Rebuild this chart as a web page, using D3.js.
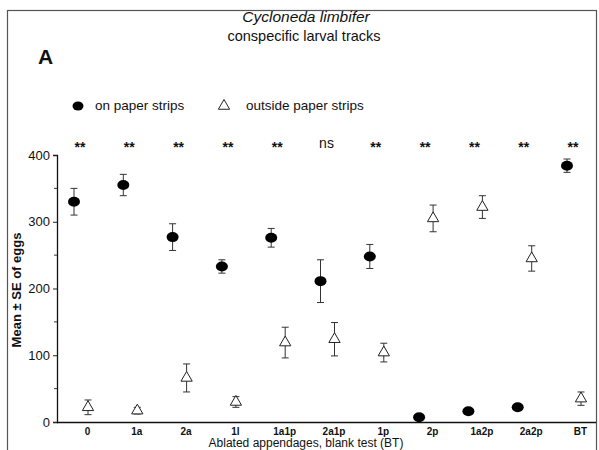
<!DOCTYPE html>
<html><head><meta charset="utf-8">
<script src="https://cdn.jsdelivr.net/npm/d3@7/dist/d3.min.js"></script>
<style>body{margin:0;background:#fff}svg{display:block}</style>
</head><body>
<svg id="c" width="599" height="450"></svg>
<script>
const categories = ["0","1a","2a","1l","1a1p","2a1p","1p","2p","1a2p","2a2p","BT"];
const onMean  = [330,355,277,233,276,211,248,7,16,22,384];
const onSE    = [20,16,20,10,14,32,18,0,0,0,10];
const outMean = [22,17,66,30,119,124,104,305,322,245,35];
const outSE   = [11,5,21,8,23,25,14,20,17,19,10];
const signif  = ["**","**","**","**","**","ns","**","**","**","**","**"];
const yTicks  = [0,100,200,300,400];
const yMinor  = [50,150,250,350];

const svg = d3.select("#c");
const font = "Liberation Sans, Arial, sans-serif";

// frame
svg.append("rect").attr("x",7.5).attr("y",10.5).attr("width",589).attr("height",445)
  .attr("fill","none").attr("stroke","#555").attr("stroke-width",1.2);

const x = d3.scalePoint().domain(categories).range([87,580]);
const y = d3.scaleLinear().domain([0,400]).range([422,155]);
const axX = 57;

// y axis
const yAxis = d3.axisLeft(y).tickValues(yTicks).tickSize(4).tickPadding(3).tickFormat(d3.format("d"));
const ga = svg.append("g").attr("transform",`translate(${axX},0)`).call(yAxis);
ga.select(".domain").attr("stroke","#111").attr("stroke-width",1.3);
ga.selectAll(".tick text").attr("font-family",font).attr("font-size",13).attr("fill","#111");
ga.selectAll(".tick line").attr("stroke","#222");
svg.append("g").selectAll("line").data(yMinor).join("line")
  .attr("x1",axX-3).attr("x2",axX).attr("y1",d=>y(d)).attr("y2",d=>y(d)).attr("stroke","#333");

// x axis
const xAxis = d3.axisBottom(x).tickSize(0).tickPadding(6);
const gx = svg.append("g").attr("transform",`translate(0,${y(0)})`).call(xAxis);
gx.select(".domain").attr("d",`M${axX},0.5H596`).attr("stroke","#111").attr("stroke-width",1.3);
gx.selectAll(".tick text").attr("font-family",font).attr("font-size",10).attr("font-weight","bold").attr("fill","#111");

// titles
svg.append("text").attr("x",306).attr("y",22).attr("text-anchor","middle")
  .attr("font-family",font).attr("font-size",15.5).attr("font-style","italic").attr("fill","#111").text("Cycloneda limbifer");
svg.append("text").attr("x",304).attr("y",41).attr("text-anchor","middle")
  .attr("font-family",font).attr("font-size",14.5).attr("fill","#111").text("conspecific larval tracks");
svg.append("text").attr("x",38).attr("y",64)
  .attr("font-family",font).attr("font-size",21).attr("font-weight","bold").attr("fill","#111").text("A");

// axis titles
svg.append("text").attr("transform","translate(21,290) rotate(-90)").attr("text-anchor","middle")
  .attr("font-family",font).attr("font-size",13).attr("font-weight","bold").attr("fill","#111").text("Mean ± SE of eggs");
svg.append("text").attr("x",306).attr("y",447).attr("text-anchor","middle")
  .attr("font-family",font).attr("font-size",12).attr("fill","#111").text("Ablated appendages, blank test (BT)");

// legend
const tri = d3.symbol().type(d3.symbolTriangle).size(55);
svg.append("ellipse").attr("cx",78).attr("cy",106).attr("rx",5.5).attr("ry",4.5).attr("fill","#000");
svg.append("text").attr("x",95).attr("y",110).attr("font-family",font).attr("font-size",13.5).attr("fill","#111").text("on paper strips");
svg.append("path").attr("d",tri).attr("transform","translate(224,106)").attr("fill","#fff").attr("stroke","#222").attr("stroke-width",1);
svg.append("text").attr("x",246).attr("y",110).attr("font-family",font).attr("font-size",13.5).attr("fill","#111").text("outside paper strips");

// significance
svg.append("g").selectAll("text").data(categories).join("text")
  .attr("x",d=>x(d)-7).attr("y",(d,i)=>signif[i]==="ns"?148:152).attr("text-anchor","middle")
  .attr("font-family",font).attr("font-size",14).attr("font-weight",(d,i)=>signif[i]==="ns"?"normal":"bold")
  .attr("fill","#111").text((d,i)=>signif[i]);

// error bars helper
function errBars(mean, se, dx){
  const g = svg.append("g").attr("stroke","#333").attr("stroke-width",1);
  categories.forEach((c,i)=>{
    if(!se[i]) return;
    const cx = x(c)+dx, t = y(mean[i]+se[i]), b = y(mean[i]-se[i]);
    g.append("line").attr("x1",cx).attr("x2",cx).attr("y1",t).attr("y2",b);
    g.append("line").attr("x1",cx-3.5).attr("x2",cx+3.5).attr("y1",t).attr("y2",t);
    g.append("line").attr("x1",cx-3.5).attr("x2",cx+3.5).attr("y1",b).attr("y2",b);
  });
}
errBars(onMean, onSE, -13);
errBars(outMean, outSE, 1);

svg.append("g").selectAll("ellipse").data(categories).join("ellipse")
  .attr("cx",d=>x(d)-13).attr("cy",(d,i)=>y(onMean[i])).attr("rx",6).attr("ry",5).attr("fill","#000");
svg.append("g").selectAll("path").data(categories).join("path")
  .attr("d",tri).attr("transform",(d,i)=>`translate(${x(d)+1},${y(outMean[i])})`)
  .attr("fill","#fff").attr("stroke","#222").attr("stroke-width",1);
</script>
</body></html>
